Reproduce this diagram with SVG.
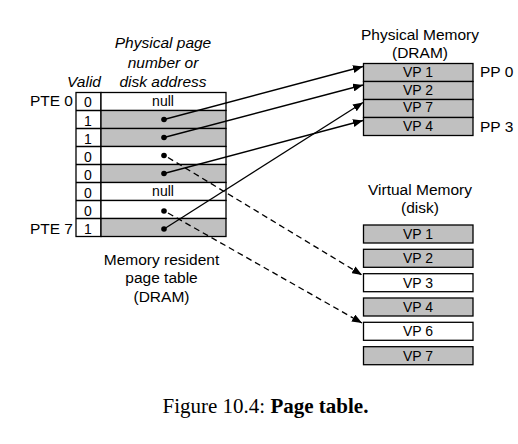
<svg xmlns="http://www.w3.org/2000/svg" width="518" height="444" viewBox="0 0 518 444">
<style>
.lbl{font-family:"Liberation Sans",Arial,sans-serif;font-size:15.5px;fill:#000}
.it{font-style:italic}
.cell{font-family:"Liberation Sans",Arial,sans-serif;font-size:14px;fill:#000;text-anchor:middle}
.g{fill:#c0c0c0;stroke:#000;stroke-width:1.3}
.w{fill:#fff;stroke:#000;stroke-width:1.3}
.ln{stroke:#000;stroke-width:1.3;fill:none}
.dash{stroke:#000;stroke-width:1.3;fill:none;stroke-dasharray:6 4}
.cap{font-family:"Liberation Serif","Times New Roman",serif;font-size:21px;fill:#000}
</style>
<defs>
<marker id="ah" viewBox="0 0 10 8" refX="10" refY="4" markerWidth="10" markerHeight="8" markerUnits="userSpaceOnUse" orient="auto">
<path d="M0,0 L10,4 L0,8 z" fill="#000"/>
</marker>
</defs>
<rect width="518" height="444" fill="#fff"/>

<g id="page-table">
<text class="lbl it" x="163" y="48" text-anchor="middle">Physical page</text>
<text class="lbl it" x="163" y="67.5" text-anchor="middle">number or</text>
<text class="lbl it" x="163" y="87" text-anchor="middle">disk address</text>
<text class="lbl it" x="101" y="87" text-anchor="end">Valid</text>
<text class="lbl" x="73" y="106" text-anchor="end">PTE 0</text>
<text class="lbl" x="73" y="234" text-anchor="end">PTE 7</text>
<rect class="w" x="76" y="92.5" width="25" height="144"/>
<rect class="w" x="101" y="92.5" width="125" height="18"/>
<rect class="g" x="101" y="110.5" width="125" height="18"/>
<rect class="g" x="101" y="128.5" width="125" height="18"/>
<rect class="w" x="101" y="146.5" width="125" height="18"/>
<rect class="g" x="101" y="164.5" width="125" height="18"/>
<rect class="w" x="101" y="182.5" width="125" height="18"/>
<rect class="w" x="101" y="200.5" width="125" height="18"/>
<rect class="g" x="101" y="218.5" width="125" height="18"/>
<path class="ln" d="M76,110.5H101M76,128.5H101M76,146.5H101M76,164.5H101M76,182.5H101M76,200.5H101M76,218.5H101"/>
<text class="cell" x="88" y="106.5">0</text>
<text class="cell" x="88" y="126">1</text>
<text class="cell" x="88" y="144">1</text>
<text class="cell" x="88" y="162">0</text>
<text class="cell" x="88" y="180">0</text>
<text class="cell" x="88" y="197.5">0</text>
<text class="cell" x="88" y="215.5">0</text>
<text class="cell" x="88" y="234">1</text>
<text class="cell" x="163" y="106">null</text>
<text class="cell" x="163" y="196">null</text>
<g fill="#000">
<circle cx="164" cy="119.5" r="2.8"/>
<circle cx="164" cy="137.5" r="2.8"/>
<circle cx="164" cy="155.5" r="2.8"/>
<circle cx="164" cy="173.5" r="2.8"/>
<circle cx="164" cy="211" r="2.8"/>
<circle cx="164" cy="229" r="2.8"/>
</g>
<text class="lbl" x="161.5" y="265" text-anchor="middle">Memory resident</text>
<text class="lbl" x="161.5" y="283" text-anchor="middle">page table</text>
<text class="lbl" x="161.5" y="301.5" text-anchor="middle">(DRAM)</text>
</g>

<g id="physical-memory">
<text class="lbl" x="420" y="40" text-anchor="middle">Physical Memory</text>
<text class="lbl" x="420" y="57.5" text-anchor="middle">(DRAM)</text>
<rect class="g" x="363.5" y="63.5" width="109.5" height="18"/>
<rect class="g" x="363.5" y="81.5" width="109.5" height="18"/>
<rect class="g" x="363.5" y="99.5" width="109.5" height="18"/>
<rect class="g" x="363.5" y="117.5" width="109.5" height="18"/>
<text class="cell" x="418" y="77">VP 1</text>
<text class="cell" x="418" y="95">VP 2</text>
<text class="cell" x="418" y="112">VP 7</text>
<text class="cell" x="418" y="130.5">VP 4</text>
<text class="lbl" x="480" y="77">PP 0</text>
<text class="lbl" x="480" y="132">PP 3</text>
</g>

<g id="virtual-memory">
<text class="lbl" x="420" y="195" text-anchor="middle">Virtual Memory</text>
<text class="lbl" x="420" y="213" text-anchor="middle">(disk)</text>
<rect class="g" x="363.5" y="225" width="109.5" height="18"/>
<rect class="g" x="363.5" y="249.3" width="109.5" height="18"/>
<rect class="w" x="363.5" y="273.7" width="109.5" height="18"/>
<rect class="g" x="363.5" y="298" width="109.5" height="18"/>
<rect class="w" x="363.5" y="322.3" width="109.5" height="18"/>
<rect class="g" x="363.5" y="346.7" width="109.5" height="18"/>
<text class="cell" x="418" y="239">VP 1</text>
<text class="cell" x="418" y="263.3">VP 2</text>
<text class="cell" x="418" y="287.7">VP 3</text>
<text class="cell" x="418" y="312">VP 4</text>
<text class="cell" x="418" y="336.3">VP 6</text>
<text class="cell" x="418" y="360.7">VP 7</text>
</g>

<g id="connectors">
<line class="ln" x1="164" y1="119.5" x2="363" y2="66.5" marker-end="url(#ah)"/>
<line class="ln" x1="164" y1="137.5" x2="363" y2="85" marker-end="url(#ah)"/>
<line class="ln" x1="164" y1="173.5" x2="363" y2="120.5" marker-end="url(#ah)"/>
<line class="ln" x1="164" y1="229" x2="363" y2="102.5" marker-end="url(#ah)"/>
<line class="dash" x1="168" y1="157.5" x2="362" y2="275" marker-end="url(#ah)"/>
<line class="dash" x1="168" y1="213" x2="362" y2="323" marker-end="url(#ah)"/>
</g>

<text class="cap" x="265.5" y="413" text-anchor="middle">Figure 10.4: <tspan font-weight="bold">Page table.</tspan></text>
</svg>
